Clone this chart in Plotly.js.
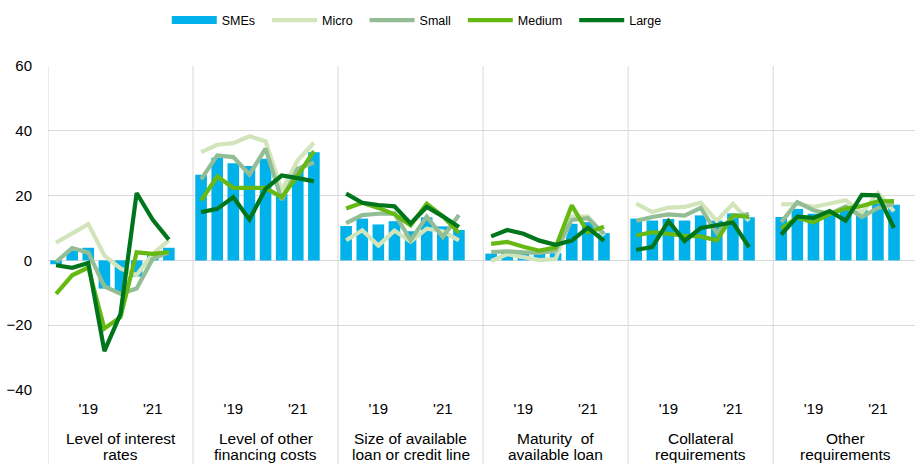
<!DOCTYPE html>
<html>
<head>
<meta charset="utf-8">
<script src="https://cdn.plot.ly/plotly-3.0.1.min.js"></script>
<style>html,body{margin:0;padding:0;background:#fff;}#chart{width:915px;height:464px;}</style>
</head>
<body>
<div id="chart"></div>
<script>
// Panel (category) labels, two lines each
const panelLabels = [
  ['Level of interest', 'rates'],
  ['Level of other', 'financing costs'],
  ['Size of available', 'loan or credit line'],
  ['Maturity\u00a0 of', 'available loan'],
  ['Collateral', 'requirements'],
  ['Other', 'requirements']
];
// Tick labels (half-year rounds; '19 at 3rd round, '21 at 7th)
const tickLabels = ["'19", "'21"];
const tickSlots = [2, 6];

// Series values, one list per panel, 8 survey rounds each
const smes = [
  [-1.2, 3.0, 3.9, -8.7, -9.8, -5.0, 2.5, 3.9],
  [26.4, 31.7, 30.0, 29.1, 31.4, 20.5, 28.5, 33.4],
  [10.6, 12.9, 11.1, 12.1, 9.0, 13.3, 10.5, 9.4],
  [2.1, 3.2, 2.0, 2.4, 2.2, 11.3, 11.8, 8.4],
  [12.9, 12.3, 12.8, 12.3, 13.9, 12.3, 14.5, 13.3],
  [13.4, 15.9, 14.4, 15.0, 16.2, 15.5, 17.5, 17.2]
];
const micro = [
  [5.5, 8.5, 11.2, 1.5, -2.5, -4.5, 2.0, 6.2],
  [33.4, 35.7, 36.2, 38.3, 36.8, 21.6, 30.9, 36.3],
  [6.2, 9.3, 4.6, 9.2, 5.8, 9.8, 9.0, 6.2],
  [-0.2, 1.9, 1.0, 0.1, 0.4, 13.5, 13.6, 7.6],
  [17.5, 14.9, 16.3, 16.5, 17.8, 12.2, 17.5, 12.2],
  [17.3, 17.4, 16.5, 17.5, 18.6, 14.7, 20.8, 15.1]
];
const small = [
  [-0.5, 3.8, 2.4, -8.0, -10.3, -8.7, 0.5, 2.5],
  [25.0, 32.4, 31.9, 26.5, 34.5, 18.7, 28.3, 30.2],
  [11.5, 14.0, 14.4, 14.5, 6.2, 13.5, 7.2, 14.0],
  [2.6, 2.8, 2.5, 2.3, 3.0, 12.5, 13.0, 8.2],
  [12.2, 13.4, 14.2, 13.8, 16.2, 8.5, 13.5, 14.3],
  [11.8, 18.0, 15.5, 14.3, 16.7, 13.4, 16.2, 17.5]
];
const medium = [
  [-10.3, -4.6, -2.2, -21.0, -17.5, 2.5, 2.0, 2.6],
  [18.5, 25.9, 22.4, 22.3, 22.4, 19.5, 26.2, 33.7],
  [16.0, 17.8, 16.2, 14.2, 10.8, 17.5, 13.6, 8.5],
  [5.1, 5.7, 4.2, 3.0, 4.0, 17.0, 8.6, 10.4],
  [7.7, 8.7, 8.2, 7.6, 7.4, 6.2, 13.9, 13.4],
  [9.8, 13.2, 11.8, 14.3, 16.0, 16.8, 18.2, 18.3]
];
const large = [
  [-1.5, -2.3, -0.8, -28.0, -16.5, 20.8, 12.5, 6.4],
  [14.9, 15.9, 19.5, 12.6, 22.1, 26.2, 25.4, 24.4],
  [20.6, 17.8, 17.1, 16.7, 11.4, 16.5, 13.6, 10.3],
  [7.4, 9.4, 8.2, 6.1, 4.8, 6.1, 10.1, 6.0],
  [3.3, 4.1, 12.1, 6.0, 10.0, 10.7, 11.7, 4.1],
  [8.0, 13.5, 13.1, 15.2, 12.3, 20.2, 20.1, 10.0]
];

const SLOTS = 9; // 8 rounds + 1 empty gap slot per panel
const colors = {
  SMEs: '#00B1EA',
  Micro: '#D2E5BA',
  Small: '#93BD94',
  Medium: '#66B912',
  Large: '#00761C'
};
const PAD = '\u00a0\u00a0'; // extra legend spacing after each name

function flatten(series, withBreaks) {
  const xs = [], ys = [];
  series.forEach((vals, p) => {
    vals.forEach((v, s) => { xs.push(p * SLOTS + s); ys.push(v); });
    if (withBreaks) { xs.push(p * SLOTS + vals.length); ys.push(null); }
  });
  return {x: xs, y: ys};
}

const traces = [];
const b = flatten(smes, false);
traces.push({type: 'bar', name: 'SMEs', x: b.x, y: b.y, width: 0.72,
  marker: {color: colors.SMEs}, showlegend: false, hoverinfo: 'skip'});
// Legend stand-in for SMEs (drawn as thick bar-like line in legend)
traces.push({type: 'scatter', mode: 'lines', name: 'SMEs' + PAD, x: [null], y: [null],
  line: {color: colors.SMEs, width: 8}, showlegend: true});
[['Micro', micro], ['Small', small], ['Medium', medium], ['Large', large]].forEach(([n, s]) => {
  const f = flatten(s, true);
  traces.push({type: 'scatter', mode: 'lines', name: n + PAD, x: f.x, y: f.y,
    connectgaps: false, line: {color: colors[n], width: 4.2}, hoverinfo: 'skip'});
});

const tickvals = [], ticktext = [];
for (let p = 0; p < panelLabels.length; p++) {
  tickSlots.forEach((s, i) => { tickvals.push(p * SLOTS + s); ticktext.push(tickLabels[i]); });
}

const gridColor = '#D9D9D9';
const shapes = [];
for (let p = 0; p <= panelLabels.length; p++) {
  shapes.push({type: 'line', xref: 'x', yref: 'paper', x0: p * SLOTS - 0.5, x1: p * SLOTS - 0.5,
    y0: -0.3, y1: 1, line: {color: gridColor, width: 1}, layer: 'below'});
}
// plot area: 390 px bottom, 324 px tall
const PLOT_BOTTOM = 390, PLOT_H = 324;
const lineCenters = [438, 454];
const annotations = [];
panelLabels.forEach((lines, p) => {
  lines.forEach((t, i) => {
    annotations.push({
      xref: 'x', yref: 'paper', x: p * SLOTS + 4, y: (PLOT_BOTTOM - lineCenters[i]) / PLOT_H,
      yanchor: 'middle', xanchor: 'center', text: t, showarrow: false, borderpad: 0,
      font: {size: 15.5, color: '#000', family: 'Liberation Sans, Arial, sans-serif'}
    });
  });
});

const layout = {
  width: 915, height: 464,
  margin: {l: 48, r: 0, t: 66, b: 74},
  paper_bgcolor: '#fff', plot_bgcolor: '#fff',
  font: {family: 'Liberation Sans, Arial, sans-serif', size: 15, color: '#000'},
  barmode: 'overlay',
  showlegend: true,
  legend: {orientation: 'h', x: 0.137, xanchor: 'left', y: 1.187, yanchor: 'top',
    font: {size: 12.5}, itemwidth: 45, traceorder: 'normal'},
  xaxis: {range: [-0.5, 53.3], tickvals: tickvals, ticktext: ticktext, showgrid: false,
    zeroline: false, showline: false, ticks: 'outside', ticklen: 5, tickcolor: 'rgba(0,0,0,0)',
    tickfont: {size: 15}},
  yaxis: {range: [-40, 60], dtick: 20, tick0: 0, showgrid: true, gridcolor: gridColor, gridwidth: 1,
    zeroline: false, showline: false, ticks: 'outside', ticklen: 12, tickcolor: 'rgba(0,0,0,0)',
    tickfont: {size: 15}},
  shapes: shapes,
  annotations: annotations
};

Plotly.newPlot('chart', traces, layout, {displayModeBar: false, staticPlot: true});
</script>
</body>
</html>
